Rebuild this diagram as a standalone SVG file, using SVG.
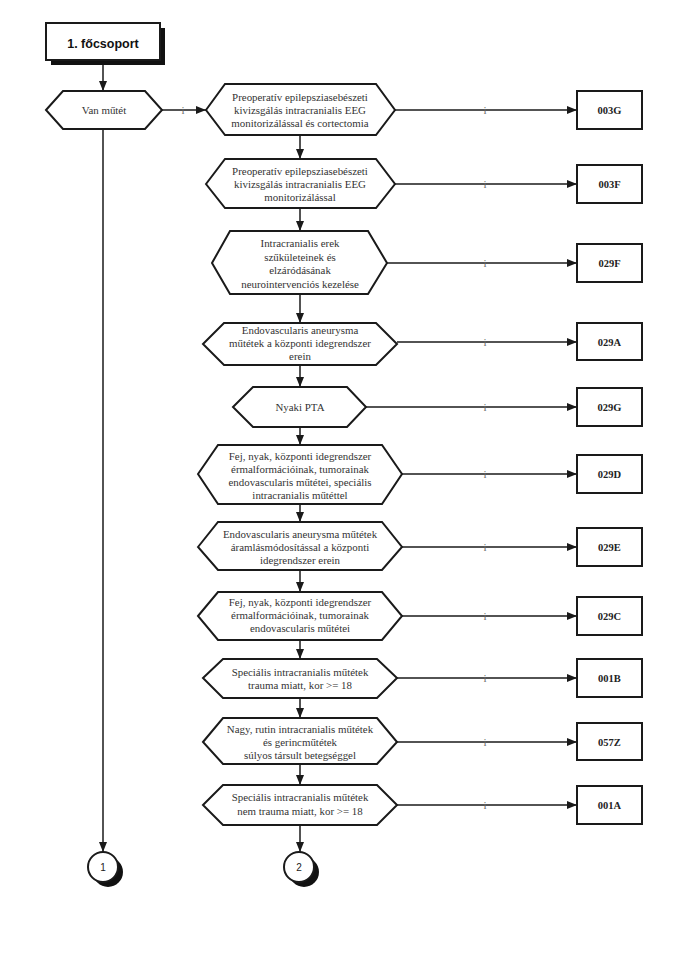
<svg xmlns="http://www.w3.org/2000/svg" width="689" height="957" viewBox="0 0 689 957">
<style>
.hex{fill:#fff;stroke:#1a1a1a;stroke-width:2}
.box{fill:#fff;stroke:#1a1a1a;stroke-width:2}
.t{font-family:"Liberation Serif","Times New Roman",serif;font-size:10.9px;fill:#333;text-anchor:middle}
.b{font-family:"Liberation Serif","Times New Roman",serif;font-size:10.5px;font-weight:bold;fill:#222;text-anchor:middle}
.lbl{font-family:"Liberation Serif",serif;font-size:11px;fill:#666;text-anchor:middle}
.ln{stroke:#1a1a1a;stroke-width:1.5;fill:none}
.c{font-family:"Liberation Sans",Arial,sans-serif;font-size:10px;fill:#222;text-anchor:middle}
</style>
<defs>
<marker id="ah" markerWidth="10" markerHeight="8" refX="10" refY="4" orient="auto" markerUnits="userSpaceOnUse">
<path d="M0,0 L10,4 L0,8 Z" fill="#1a1a1a"/>
</marker>
</defs>
<rect width="689" height="957" fill="#fff"/>

<g id="connectors">
<line class="ln" x1="103" y1="60" x2="103" y2="91" marker-end="url(#ah)"/>
<line class="ln" x1="103" y1="129" x2="103" y2="852" marker-end="url(#ah)"/>
<line class="ln" x1="162" y1="110" x2="206" y2="110" marker-end="url(#ah)"/>
<line class="ln" x1="300" y1="135" x2="300" y2="159" marker-end="url(#ah)"/>
<line class="ln" x1="300" y1="208" x2="300" y2="231" marker-end="url(#ah)"/>
<line class="ln" x1="300" y1="294" x2="300" y2="323" marker-end="url(#ah)"/>
<line class="ln" x1="300" y1="365" x2="300" y2="387" marker-end="url(#ah)"/>
<line class="ln" x1="300" y1="427" x2="300" y2="445" marker-end="url(#ah)"/>
<line class="ln" x1="300" y1="504" x2="300" y2="522" marker-end="url(#ah)"/>
<line class="ln" x1="300" y1="570" x2="300" y2="592" marker-end="url(#ah)"/>
<line class="ln" x1="300" y1="640" x2="300" y2="659" marker-end="url(#ah)"/>
<line class="ln" x1="300" y1="698" x2="300" y2="718" marker-end="url(#ah)"/>
<line class="ln" x1="300" y1="764" x2="300" y2="785" marker-end="url(#ah)"/>
<line class="ln" x1="300" y1="825" x2="300" y2="852" marker-end="url(#ah)"/>
<line class="ln" x1="395" y1="110" x2="577" y2="110" marker-end="url(#ah)"/>
<line class="ln" x1="395" y1="184" x2="577" y2="184" marker-end="url(#ah)"/>
<line class="ln" x1="387" y1="263" x2="577" y2="263" marker-end="url(#ah)"/>
<line class="ln" x1="397" y1="342" x2="577" y2="342" marker-end="url(#ah)"/>
<line class="ln" x1="366" y1="407" x2="577" y2="407" marker-end="url(#ah)"/>
<line class="ln" x1="402" y1="474" x2="577" y2="474" marker-end="url(#ah)"/>
<line class="ln" x1="402" y1="547" x2="577" y2="547" marker-end="url(#ah)"/>
<line class="ln" x1="402" y1="616" x2="577" y2="616" marker-end="url(#ah)"/>
<line class="ln" x1="397" y1="678" x2="577" y2="678" marker-end="url(#ah)"/>
<line class="ln" x1="397" y1="742" x2="577" y2="742" marker-end="url(#ah)"/>
<line class="ln" x1="397" y1="805" x2="577" y2="805" marker-end="url(#ah)"/>
<text class="lbl" x="183" y="114">i</text>
<text class="lbl" x="485" y="114">i</text>
<text class="lbl" x="485" y="188">i</text>
<text class="lbl" x="485" y="267">i</text>
<text class="lbl" x="485" y="346">i</text>
<text class="lbl" x="485" y="411">i</text>
<text class="lbl" x="485" y="478">i</text>
<text class="lbl" x="485" y="551">i</text>
<text class="lbl" x="485" y="620">i</text>
<text class="lbl" x="485" y="682">i</text>
<text class="lbl" x="485" y="746">i</text>
<text class="lbl" x="485" y="809">i</text>
</g>

<g id="start">
<rect x="51" y="28" width="114" height="37" fill="#111"/>
<rect x="46" y="23" width="114" height="37" class="box"/>
<text x="103" y="48" font-family="'Liberation Sans',Arial,sans-serif" font-size="12.5" font-weight="bold" fill="#111" text-anchor="middle">1. főcsoport</text>
</g>

<g id="van-mutet">
<polygon class="hex" points="46,110 63,91 145,91 162,110 145,129 63,129"/>
<text class="t" x="104" y="114">Van műtét</text>
</g>

<g id="h1">
<polygon class="hex" points="206,110 225,84 376,84 395,110 376,135 225,135"/>
<text class="t" x="300" y="101">Preoperatív epilepsziasebészeti</text>
<text class="t" x="300" y="114">kivizsgálás intracranialis EEG</text>
<text class="t" x="300" y="127">monitorizálással és cortectomia</text>
</g>
<g id="h2">
<polygon class="hex" points="206,184 225,159 376,159 395,184 376,208 225,208"/>
<text class="t" x="300" y="175">Preoperatív epilepsziasebészeti</text>
<text class="t" x="300" y="188">kivizsgálás intracranialis EEG</text>
<text class="t" x="300" y="201">monitorizálással</text>
</g>
<g id="h3">
<polygon class="hex" points="212,263 230,231 368,231 387,263 368,294 230,294"/>
<text class="t" x="300" y="247">Intracranialis erek</text>
<text class="t" x="300" y="261">szűkületeinek és</text>
<text class="t" x="300" y="274">elzáródásának</text>
<text class="t" x="300" y="288">neurointervenciós kezelése</text>
</g>
<g id="h4">
<polygon class="hex" points="203,344 224,323 376,323 397,344 376,365 224,365"/>
<text class="t" x="300" y="334">Endovascularis aneurysma</text>
<text class="t" x="300" y="347">műtétek a központi idegrendszer</text>
<text class="t" x="300" y="360">erein</text>
</g>
<g id="h5">
<polygon class="hex" points="233,407 253,387 347,387 366,407 347,427 253,427"/>
<text class="t" x="300" y="411">Nyaki PTA</text>
</g>
<g id="h6">
<polygon class="hex" points="198,474 218,445 382,445 402,474 382,504 218,504"/>
<text class="t" x="300" y="460">Fej, nyak, központi idegrendszer</text>
<text class="t" x="300" y="473">érmalformációinak, tumorainak</text>
<text class="t" x="300" y="486">endovascularis műtétei, speciális</text>
<text class="t" x="300" y="499">intracranialis műtéttel</text>
</g>
<g id="h7">
<polygon class="hex" points="198,547 218,522 382,522 402,547 382,570 218,570"/>
<text class="t" x="300" y="538">Endovascularis aneurysma műtétek</text>
<text class="t" x="300" y="551">áramlásmódosítással a központi</text>
<text class="t" x="300" y="564">idegrendszer erein</text>
</g>
<g id="h8">
<polygon class="hex" points="198,616 218,592 382,592 402,616 382,640 218,640"/>
<text class="t" x="300" y="606">Fej, nyak, központi idegrendszer</text>
<text class="t" x="300" y="619">érmalformációinak, tumorainak</text>
<text class="t" x="300" y="632">endovascularis műtétei</text>
</g>
<g id="h9">
<polygon class="hex" points="203,678 223,659 377,659 397,678 377,698 223,698"/>
<text class="t" x="300" y="676">Speciális intracranialis műtétek</text>
<text class="t" x="300" y="689">trauma miatt, kor &gt;= 18</text>
</g>
<g id="h10">
<polygon class="hex" points="203,742 223,718 377,718 397,742 377,764 223,764"/>
<text class="t" x="300" y="733">Nagy, rutin intracranialis műtétek</text>
<text class="t" x="300" y="746">és gerincműtétek</text>
<text class="t" x="300" y="759">súlyos társult betegséggel</text>
</g>
<g id="h11">
<polygon class="hex" points="203,805 223,785 377,785 397,805 377,825 223,825"/>
<text class="t" x="300" y="801">Speciális intracranialis műtétek</text>
<text class="t" x="300" y="815">nem trauma miatt, kor &gt;= 18</text>
</g>

<g id="r003G"><rect class="box" x="577" y="91" width="65" height="38"/><text class="b" x="609.5" y="114">003G</text></g>
<g id="r003F"><rect class="box" x="577" y="165" width="65" height="38"/><text class="b" x="609.5" y="188">003F</text></g>
<g id="r029F"><rect class="box" x="577" y="244" width="65" height="38"/><text class="b" x="609.5" y="267">029F</text></g>
<g id="r029A"><rect class="box" x="577" y="323" width="65" height="37"/><text class="b" x="609.5" y="346">029A</text></g>
<g id="r029G"><rect class="box" x="577" y="388" width="65" height="38"/><text class="b" x="609.5" y="411">029G</text></g>
<g id="r029D"><rect class="box" x="577" y="455" width="65" height="38"/><text class="b" x="609.5" y="478">029D</text></g>
<g id="r029E"><rect class="box" x="577" y="528" width="65" height="38"/><text class="b" x="609.5" y="551">029E</text></g>
<g id="r029C"><rect class="box" x="577" y="597" width="65" height="38"/><text class="b" x="609.5" y="620">029C</text></g>
<g id="r001B"><rect class="box" x="577" y="659" width="65" height="38"/><text class="b" x="609.5" y="682">001B</text></g>
<g id="r057Z"><rect class="box" x="577" y="723" width="65" height="37"/><text class="b" x="609.5" y="746">057Z</text></g>
<g id="r001A"><rect class="box" x="577" y="786" width="65" height="38"/><text class="b" x="609.5" y="809">001A</text></g>

<g id="c1">
<circle cx="108" cy="872" r="15" fill="#111"/>
<circle cx="103" cy="867" r="15" fill="#fff" stroke="#1a1a1a" stroke-width="2"/>
<text class="c" x="103" y="871">1</text>
</g>
<g id="c2">
<circle cx="304" cy="872" r="15" fill="#111"/>
<circle cx="299" cy="867" r="15" fill="#fff" stroke="#1a1a1a" stroke-width="2"/>
<text class="c" x="299" y="871">2</text>
</g>
</svg>
